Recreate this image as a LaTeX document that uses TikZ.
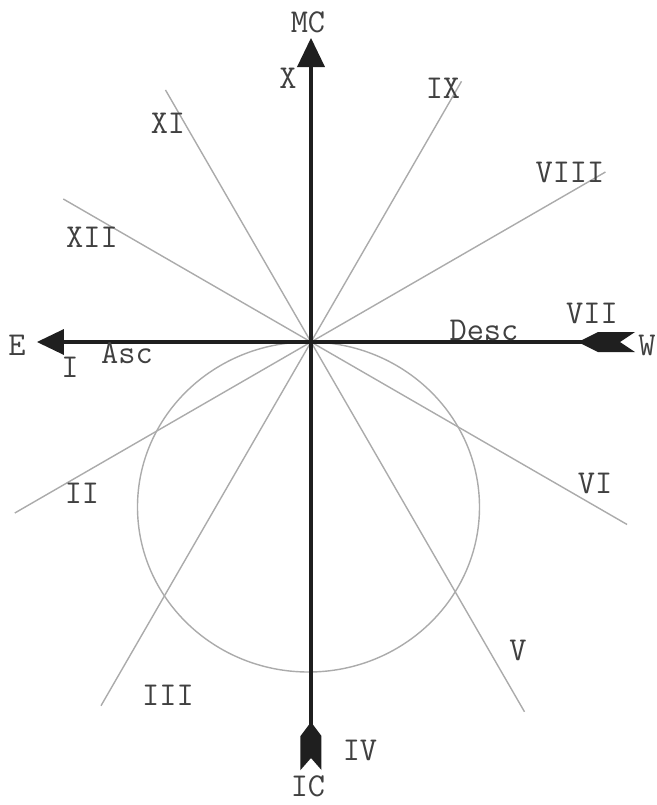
\documentclass[tikz,border=0pt]{standalone}
\usepackage{fontspec}
\tikzset{
  house/.style={draw=black!33, line width=0.8pt},
  axis/.style={draw=black!88, line width=2.8pt},
  tip/.style={fill=black!88},
  lbl/.style={font=\ttfamily\fontsize{19}{21}\selectfont, text=black!75, inner sep=0pt},
}
\begin{document}
\begin{tikzpicture}
\useasboundingbox (-6.22,-9.26) rectangle (6.9,6.84);

% house cusps
\coordinate (O) at (0,0);
\coordinate (c11) at (120:5.82);
\coordinate (c5) at (-60:8.54);
\coordinate (c9) at (60:6.02);
\coordinate (c3) at (240:8.4);
\coordinate (c12) at (150:5.72);
\coordinate (c6) at (-30:7.3);
\coordinate (c8) at (30:6.8);
\coordinate (c2) at (210:6.84);
\draw[house] (c11) -- (c5);
\draw[house] (c9) -- (c3);
\draw[house] (c12) -- (c6);
\draw[house] (c8) -- (c2);
\draw[house] (-0.05,-3.3) ellipse [x radius=3.42, y radius=3.3];

% meridian
\coordinate (mc) at (0,5.5);
\coordinate (ic) at (0,-8.32);
\draw[axis] (ic) -- (mc);
\fill[tip] (0,6.08) -- (0.28,5.5) -- (-0.28,5.5) -- cycle;
\fill[tip] (0,-7.6) -- (0.21,-7.88) -- (0.21,-8.56) -- (0,-8.32)
  -- (-0.21,-8.56) -- (-0.21,-7.88) -- cycle;

% horizon
\coordinate (asc) at (-4.94,0);
\coordinate (desc) at (6.18,0);
\draw[axis] (desc) -- (asc);
\fill[tip] (-5.48,0) -- (-4.94,0.26) -- (-4.94,-0.26) -- cycle;
\fill[tip] (5.34,0) -- (5.74,0.2) -- (6.48,0.2) -- (6.18,0)
  -- (6.48,-0.2) -- (5.74,-0.2) -- cycle;

% labels
\node[lbl] (MC) at (-0.06,6.4) {MC};
\node[lbl] (IC) at (-0.06,-8.88) {IC};
\node[lbl] (E) at (-5.88,-0.06) {E};
\node[lbl] (W) at (6.72,-0.06) {W};
\node[lbl] (Asc) at (-3.68,-0.22) {Asc};
\node[lbl] (Desc) at (3.46,0.24) {Desc};
\node[lbl] (h1) at (-4.82,-0.5) {I};
\node[lbl] (h2) at (-4.58,-3.02) {II};
\node[lbl] (h3) at (-2.86,-7.06) {III};
\node[lbl] (h4) at (0.98,-8.16) {IV};
\node[lbl] (h5) at (4.14,-6.16) {V};
\node[lbl] (h6) at (5.68,-2.82) {VI};
\node[lbl] (h7) at (5.62,0.58) {VII};
\node[lbl] (h8) at (5.18,3.4) {VIII};
\node[lbl] (h9) at (2.64,5.08) {IX};
\node[lbl] (h10) at (-0.46,5.28) {X};
\node[lbl] (h11) at (-2.86,4.38) {XI};
\node[lbl] (h12) at (-4.38,2.1) {XII};
\end{tikzpicture}
\end{document}
